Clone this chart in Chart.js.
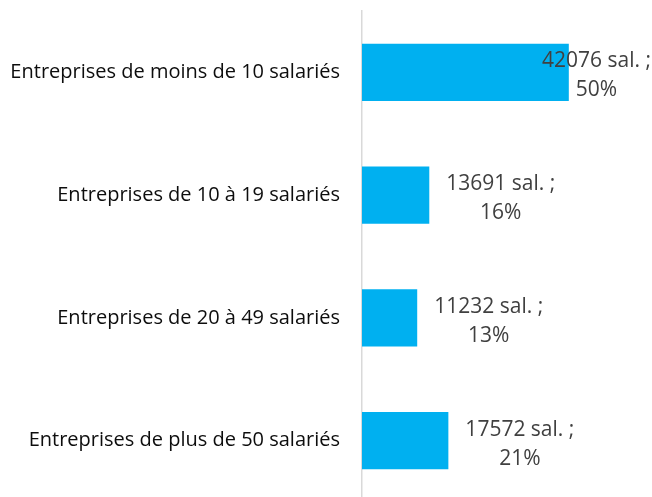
<!DOCTYPE html>
<html>
<head>
<meta charset="utf-8">
<script src="https://cdn.jsdelivr.net/npm/chart.js@4.4.1/dist/chart.umd.min.js"></script>
<style>
  html, body { margin: 0; padding: 0; background: #fff; overflow: hidden; }
</style>
</head>
<body>
<canvas id="barChart" width="652" height="502"></canvas>
<script>
// Effectifs salariés par taille d'entreprise
const categories = [
    'Entreprises de moins de 10 salariés',
    'Entreprises de 10 à 19 salariés',
    'Entreprises de 20 à 49 salariés',
    'Entreprises de plus de 50 salariés'
];
const salaries = [42076, 13691, 11232, 17572];
const percents = [50, 16, 13, 21];
const xMax = 59000;

const labelFont = '21px "Open Sans"';

// draws "N sal. ;" / "P%" next to each bar, kept inside the chart
const valueLabels = {
    id: 'valueLabels',
    afterDatasetsDraw(chart) {
        const ctx = chart.ctx;
        const meta = chart.getDatasetMeta(0);
        const right = chart.chartArea.right - 1;
        ctx.save();
        ctx.font = labelFont;
        ctx.fillStyle = '#404040';
        ctx.textAlign = 'center';
        ctx.textBaseline = 'alphabetic';
        meta.data.forEach((bar, i) => {
            const line1 = salaries[i] + ' sal. ;';
            const line2 = percents[i] + '%';
            const w = Math.max(ctx.measureText(line1).width, ctx.measureText(line2).width);
            let left = bar.x + 17;
            if (left + w > right) left = right - w;
            ctx.fillText(line1, left + w / 2, bar.y - 5);
            ctx.fillText(line2, left + w / 2, bar.y + 24);
        });
        ctx.restore();
    }
};

const ctxBar = document.getElementById('barChart').getContext('2d');
new Chart(ctxBar, {
    type: 'bar',
    data: {
        labels: categories,
        datasets: [{
            data: salaries,
            backgroundColor: '#00b0f0',
            borderWidth: 0,
            categoryPercentage: 1,
            barPercentage: 0.465
        }]
    },
    options: {
        indexAxis: 'y',
        responsive: false,
        animation: false,
        layout: { padding: { top: 11, left: 0, right: 0, bottom: 0 } },
        plugins: {
            legend: { display: false },
            tooltip: { enabled: false }
        },
        scales: {
            x: {
                display: false,
                min: 0,
                max: xMax
            },
            y: {
                grid: { display: false, drawTicks: false },
                border: { display: true, color: '#d9d9d9', width: 1.5 },
                ticks: {
                    color: '#0d0d0d',
                    padding: 22,
                    font: { family: 'Open Sans', size: 20 }
                },
                afterFit(scale) {
                    scale.width = 362;
                    scale.paddingTop = 0;
                    scale.paddingBottom = 0;
                }
            }
        }
    },
    plugins: [valueLabels]
});
</script>
</body>
</html>
